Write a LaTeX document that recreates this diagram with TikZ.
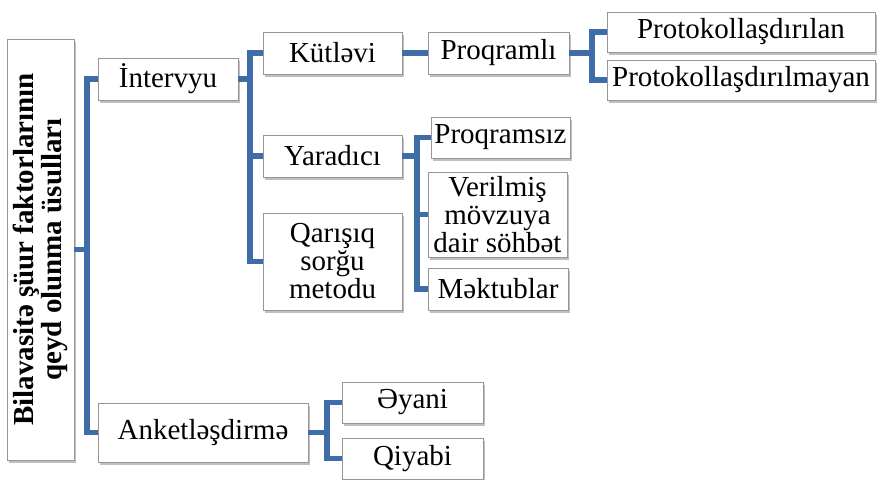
\documentclass[tikz,border=0pt]{standalone}
\usepackage{fontspec}
\setmainfont{Liberation Serif}
\usetikzlibrary{shadows}
\definecolor{linkblue}{RGB}{64,108,168}
\definecolor{boxline}{RGB}{150,150,150}
\tikzset{
  x=1pt, y=-1pt,
  box/.style={draw=boxline, line width=0.8pt, fill=white, inner sep=0pt,
    align=center, font=\fontsize{29}{28}\selectfont,
    drop shadow={shadow xshift=2pt, shadow yshift=-2.5pt, fill=black, opacity=0.25}},
  link/.style={draw=linkblue, line width=5.2pt}
}
\newcommand{\bx}[7]{% name, x1,y1,x2,y2, text, extra
  \node[box, minimum width={#4-#2}, minimum height={#5-#3}, #7] (#1) at ({(#2+#4)/2},{(#3+#5)/2}) {#6};}
\begin{document}
\begin{tikzpicture}
\useasboundingbox (0,0) rectangle (877,479);
% nodes
\node[box, minimum width=421, minimum height=67, rotate=90,
  font=\bfseries\fontsize{29}{28}\selectfont] (root) at (40.5,249.5)
  {Bilavasitə şüur faktorlarının\\qeyd olunma üsulları};
\bx{int}{98}{58}{238}{100}{İntervyu}{}
\bx{ank}{98}{403}{308}{462}{Anketləşdirmə}{}
\bx{kut}{263}{32}{402}{74}{Kütləvi}{}
\bx{yar}{263}{135}{402}{177}{Yaradıcı}{}
\bx{qar}{263}{213}{402}{310}{Qarışıq\\sorğu\\metodu}{}
\bx{prq}{428}{32}{569}{74}{Proqramlı}{}
\bx{prs}{431}{117}{570}{158}{Proqramsız}{}
\bx{ver}{428}{172}{567}{257}{Verilmiş\\mövzuya\\dair söhbət}{}
\bx{mek}{428}{268}{568}{310}{Məktublar}{}
\bx{pt1}{607}{12}{875}{52}{Protokollaşdırılan}{}
\bx{pt2}{607}{60}{875}{100}{Protokollaşdırılmayan}{}
\bx{eya}{342}{382}{483}{423}{Əyani}{}
\bx{qiy}{342}{438}{483}{479}{Qiyabi}{}
% trunk positions
\coordinate (t0) at (87,0);
\coordinate (t1) at (250,0);
\coordinate (t2) at (592,0);
\coordinate (t3) at (417,0);
\coordinate (t4) at (327,0);
% connectors
\draw[link] (root.south) -- (root.south -| t0) |- (int.west);
\draw[link] (root.south -| t0) |- (ank.west);
\draw[link] (int.east) -- (int.east -| t1) |- (kut.west);
\draw[link] (int.east -| t1) |- (yar.west);
\draw[link] (int.east -| t1) |- (qar.west);
\draw[link] (kut.east) -- (prq.west);
\draw[link] (prq.east) -- (prq.east -| t2) |- (pt1.west);
\draw[link] (prq.east -| t2) |- (pt2.west);
\draw[link] (yar.east) -- (yar.east -| t3);
\draw[link] (prs.west) -| (t3 |- prs.west) |- (mek.west);
\draw[link] (t3 |- ver.west) -- (ver.west);
\draw[link] (ank.east) -- (ank.east -| t4);
\draw[link] (eya.west) -| (t4 |- eya.west) |- (qiy.west);
\end{tikzpicture}
\end{document}
